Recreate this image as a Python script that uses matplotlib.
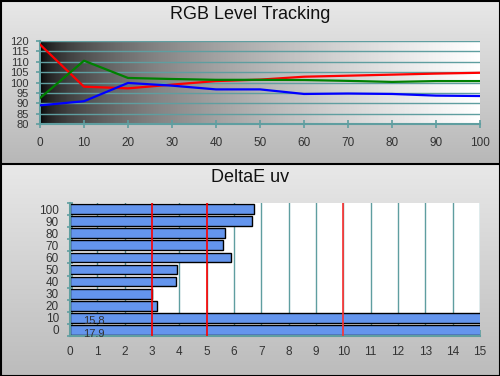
import numpy as np
import matplotlib
matplotlib.use("Agg")
import matplotlib.pyplot as plt

plt.rcParams['font.family'] = ['Liberation Sans', 'DejaVu Sans']

# RGB level tracking (% of target) at each stimulus level
levels = [0, 10, 20, 30, 40, 50, 60, 70, 80, 90, 100]
red = [118.3, 98.0, 97.2, 99.0, 100.7, 101.4, 102.8, 103.3, 103.8, 104.3, 104.7]
green = [92.5, 110.5, 102.2, 101.7, 101.3, 101.3, 101.2, 100.8, 100.3, 100.7, 100.7]
blue = [89.0, 91.0, 99.8, 98.5, 96.7, 96.7, 94.5, 94.7, 94.5, 93.7, 93.5]

# DeltaE uv per level
de_labels = ["0", "10", "20", "30", "40", "50", "60", "70", "80", "90", "100"]
de_values = [17.9, 15.8, 3.19, 3.0, 3.89, 3.93, 5.90, 5.61, 5.68, 6.67, 6.74]
de_limits = [3, 5, 10]

teal = "#5f9ea0"
txt = "#333333"

fig = plt.figure(figsize=[5, 3.76], dpi=100)

# panel backgrounds
bg = fig.add_axes([0, 0, 1, 1], zorder=-10)
bg.axis("off")
grad = np.linspace(0, 1, 100).reshape(-1, 1)
bg.imshow(grad, cmap=matplotlib.colors.LinearSegmentedColormap.from_list("g", ["#e8e8e8", "#b8b8b8"]),
          extent=[0, 500, 163, 0], aspect="auto")
bg.imshow(grad, cmap=matplotlib.colors.LinearSegmentedColormap.from_list("g", ["#e8e8e8", "#bcbcbc"]),
          extent=[0, 500, 376, 164], aspect="auto")
bg.plot([0, 500], [163.5, 163.5], color="black", lw=1.5)
bg.plot([0.5, 499.5, 499.5, 0.5, 0.5], [0.5, 0.5, 375.5, 375.5, 0.5], color="black", lw=1.5)
bg.set_xlim(0, 500)
bg.set_ylim(376, 0)

fig.text(0.5, 0.962, "RGB Level Tracking", ha="center", va="center", fontsize=13, color="#111111")
fig.text(0.5, 0.527, "DeltaE uv", ha="center", va="center", fontsize=13, color="#111111")

# top chart
ax = fig.add_axes([0.08, 0.670, 0.88, 0.221])
shade = np.sqrt(np.linspace(0, 1, 256)).reshape(1, -1)
ax.imshow(shade, cmap="gray", vmin=0, vmax=1, extent=[0, 100, 80, 120], aspect="auto", zorder=0)
ax.set_xlim(0, 100)
ax.set_ylim(80, 120)
for yv in range(85, 121, 5):
    ax.axhline(yv, color=teal, lw=1, zorder=1)
ax.plot(levels, red, color="red", lw=1.6, zorder=3)
ax.plot(levels, green, color="green", lw=1.6, zorder=3)
ax.plot(levels, blue, color="blue", lw=1.6, zorder=3)
ax.set_xticks(levels)
ax.set_yticks(range(80, 121, 5))
ax.tick_params(axis="x", direction="inout", length=6, width=1.2, color=teal, labelsize=8.5, labelcolor=txt, pad=6)
ax.tick_params(axis="y", direction="out", length=3, width=1.2, color=teal, labelsize=8, labelcolor=txt, pad=5)
for s in ["top", "right"]:
    ax.spines[s].set_visible(False)
ax.spines["left"].set_color(teal)
ax.spines["bottom"].set_color(teal)
ax.spines["left"].set_linewidth(1.5)
ax.spines["bottom"].set_linewidth(1.5)

# bottom chart
ax2 = fig.add_axes([0.14, 0.1064, 0.82, 0.3537])
ax2.set_facecolor("white")
ypos = np.arange(len(de_values))
ax2.barh(ypos, de_values, height=0.8, color="#6495ed", edgecolor="black", lw=1, zorder=2)
for xv in range(1, 16):
    ax2.axvline(xv, color=teal, lw=1, zorder=1)
for xv in de_limits:
    ax2.axvline(xv, color="#ff3030" if xv == 10 else "red", lw=1.2, zorder=3)
for i, v in enumerate(de_values):
    if v > 15:
        ax2.text(0.88, i - 0.3, f"{v:.1f}", ha="center", va="center", fontsize=8, color=txt, zorder=4)
ax2.set_xlim(0, 15)
ax2.set_ylim(-0.5, len(de_values) - 0.5)
ax2.set_xticks(range(0, 16))
ax2.set_yticks(ypos)
ax2.set_yticklabels(de_labels)
ax2.set_yticks(np.arange(-0.5, len(de_values)), minor=True)
ax2.tick_params(axis="x", direction="in", length=4, width=1.2, color=teal, labelsize=8.5, labelcolor=txt, pad=7)
ax2.tick_params(axis="y", which="major", length=0, labelsize=8.5, labelcolor=txt, pad=8)
ax2.tick_params(axis="y", which="minor", direction="inout", length=5, width=1.2, color=teal)
for s in ["top", "right"]:
    ax2.spines[s].set_visible(False)
ax2.spines["left"].set_color(teal)
ax2.spines["bottom"].set_color(teal)
ax2.spines["left"].set_linewidth(1.5)
ax2.spines["bottom"].set_linewidth(1.5)

fig.savefig("out.png", dpi=100)
